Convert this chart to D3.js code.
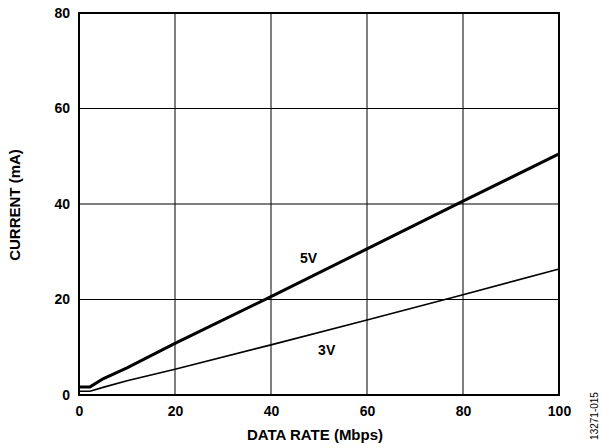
<!DOCTYPE html>
<html>
<head>
<script src="https://d3js.org/d3.v7.min.js"></script>
<style>
  body { margin: 0; background: #fff; }
  text { font-family: "Liberation Sans", Arial, sans-serif; fill: #000; }
</style>
</head>
<body>
<svg width="602" height="448" id="chart"></svg>
<script>
const rate5V = [0, 2.3, 5, 10, 20, 40, 60, 80, 100];
const current5V = [1.7, 1.7, 3.4, 5.7, 10.8, 20.6, 30.6, 40.6, 50.5];
const rate3V = [0, 2.3, 5, 10, 20, 40, 60, 80, 100];
const current3V = [0.8, 0.8, 1.6, 3.0, 5.4, 10.5, 15.7, 21.0, 26.4];
const xTicks = [0, 20, 40, 60, 80, 100];
const yTicks = [0, 20, 40, 60, 80];

const svg = d3.select("#chart");
const x = d3.scaleLinear().domain([0, 100]).range([79, 559]);
const y = d3.scaleLinear().domain([0, 80]).range([395, 13]);

// grid
svg.append("g").selectAll("line").data(xTicks.slice(1, -1))
  .join("line").attr("x1", d => x(d)).attr("x2", d => x(d))
  .attr("y1", y(0)).attr("y2", y(80))
  .attr("stroke", "#000").attr("stroke-width", 1);
svg.append("g").selectAll("line").data(yTicks.slice(1, -1))
  .join("line").attr("y1", d => y(d)).attr("y2", d => y(d))
  .attr("x1", x(0)).attr("x2", x(100))
  .attr("stroke", "#000").attr("stroke-width", 1);

// frame
svg.append("rect").attr("x", x(0)).attr("y", y(80))
  .attr("width", x(100) - x(0)).attr("height", y(0) - y(80))
  .attr("fill", "none").attr("stroke", "#000").attr("stroke-width", 2);

// tick labels
const xAxis = d3.axisBottom(x).tickValues(xTicks).tickSize(0).tickPadding(11);
svg.append("g").attr("transform", `translate(0,${y(0)})`).call(xAxis)
  .call(g => g.select(".domain").remove())
  .selectAll("text").attr("font-size", 14).attr("font-weight", "bold")
  .attr("font-family", "Liberation Sans, Arial, sans-serif");
const yAxis = d3.axisLeft(y).tickValues(yTicks).tickSize(0).tickPadding(9);
svg.append("g").attr("transform", `translate(${x(0)},0)`).call(yAxis)
  .call(g => g.select(".domain").remove())
  .selectAll("text").attr("font-size", 14).attr("font-weight", "bold")
  .attr("font-family", "Liberation Sans, Arial, sans-serif");

// series
const line = d3.line().x(d => x(d[0])).y(d => y(d[1]));
svg.append("path").datum(rate5V.map((r, i) => [r, current5V[i]]))
  .attr("d", line).attr("fill", "none").attr("stroke", "#000").attr("stroke-width", 3);
svg.append("path").datum(rate3V.map((r, i) => [r, current3V[i]]))
  .attr("d", line).attr("fill", "none").attr("stroke", "#000").attr("stroke-width", 1.6);

// series labels
svg.append("text").attr("x", x(47.8)).attr("y", y(28.7)).attr("dy", "0.35em")
  .attr("text-anchor", "middle").attr("font-size", 14).attr("font-weight", "bold").text("5V");
svg.append("text").attr("x", x(51.6)).attr("y", y(9.4)).attr("dy", "0.35em")
  .attr("text-anchor", "middle").attr("font-size", 14).attr("font-weight", "bold").text("3V");

// axis titles
svg.append("text").attr("x", 315).attr("y", 440).attr("text-anchor", "middle")
  .attr("font-size", 15).attr("font-weight", "bold").text("DATA RATE (Mbps)");
svg.append("text").attr("transform", "translate(20,205) rotate(-90)")
  .attr("text-anchor", "middle").attr("font-size", 15).attr("font-weight", "bold").text("CURRENT (mA)");

// figure id
svg.append("text").attr("transform", "translate(598,416) rotate(-90)")
  .attr("text-anchor", "middle").attr("font-size", 10).text("13271-015");
</script>
</body>
</html>
